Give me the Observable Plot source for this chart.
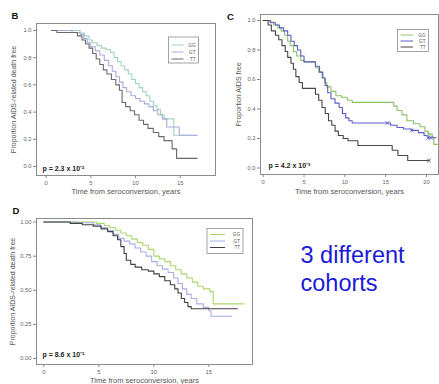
<!DOCTYPE html>
<html>
<head>
<meta charset="utf-8">
<script src="https://cdn.jsdelivr.net/npm/d3@7"></script>
<script src="https://cdn.jsdelivr.net/npm/@observablehq/plot@0.6"></script>
<style>
  body { margin: 0; background: #fff; }
  #wrap { position: relative; width: 439px; height: 384px; overflow: hidden; background: #fff; font-family: Arial, "Liberation Sans", sans-serif; }
  .panel { position: absolute; }
  #overlay { position: absolute; left: 0; top: 0; }
</style>
</head>
<body>
<div id="wrap">
  <div class="panel" id="pB" style="left:0px;top:0px"></div>
  <div class="panel" id="pC" style="left:220px;top:0px"></div>
  <div class="panel" id="pD" style="left:0px;top:190px"></div>
</div>
<script>
// ---------- data (time in years, proportion surviving) ----------
const genotypes = ["GG", "GT", "TT"];
const xTitle = "Time from seroconversion, years";

// Panel B
const B_GG = [[0.6,1],[3.8,0.98],[4.3,0.96],[4.8,0.93],[5.2,0.91],[5.7,0.89],[6.2,0.87],[6.7,0.86],[7.2,0.84],[7.6,0.80],[8.0,0.77],[8.4,0.74],[8.8,0.71],[9.2,0.68],[9.6,0.64],[10.0,0.61],[10.4,0.58],[10.8,0.55],[11.2,0.52],[11.6,0.48],[12.0,0.45],[12.4,0.42],[12.8,0.38],[13.2,0.35],[14.3,0.23],[16.9,0.23]];
const B_GT = [[0.6,1],[2.9,0.985],[3.8,0.97],[4.2,0.94],[4.6,0.91],[5.0,0.88],[5.5,0.85],[6.0,0.82],[6.5,0.78],[7.0,0.74],[7.4,0.70],[7.8,0.66],[8.2,0.62],[8.6,0.58],[9.0,0.55],[9.5,0.52],[10.0,0.50],[10.5,0.48],[11.0,0.46],[11.5,0.44],[12.0,0.41],[12.5,0.38],[13.0,0.35],[13.5,0.29],[14.9,0.23],[16.9,0.23]];
const B_TT = [[0.6,1],[1.2,0.985],[3.5,0.96],[4.0,0.93],[4.4,0.90],[4.8,0.87],[5.2,0.83],[5.6,0.79],[6.0,0.75],[6.4,0.71],[6.8,0.68],[7.3,0.64],[7.8,0.60],[8.2,0.56],[8.5,0.47],[8.9,0.44],[9.4,0.41],[9.9,0.38],[10.4,0.34],[10.9,0.31],[11.4,0.28],[12.0,0.25],[12.6,0.22],[13.2,0.19],[14.1,0.13],[14.6,0.06],[16.9,0.06]];

// Panel C
const C_GG = [[0,1],[0.8,0.99],[1.3,0.97],[1.8,0.95],[2.2,0.93],[2.6,0.90],[3.0,0.86],[3.3,0.83],[3.7,0.79],[4.1,0.76],[4.6,0.73],[5.0,0.72],[6.4,0.68],[6.8,0.65],[7.2,0.61],[7.5,0.58],[7.8,0.55],[8.3,0.52],[8.9,0.49],[9.6,0.48],[10.3,0.46],[10.9,0.445],[16.0,0.42],[16.4,0.39],[17.0,0.36],[17.6,0.32],[18.4,0.30],[19.2,0.28],[19.8,0.25],[20.2,0.23],[20.7,0.21],[20.9,0.16],[21.3,0.16]];
const C_GT = [[0,1],[0.9,0.985],[1.5,0.97],[2.0,0.95],[2.5,0.93],[3.0,0.90],[3.4,0.86],[3.8,0.83],[4.2,0.80],[4.6,0.76],[5.0,0.72],[6.4,0.69],[6.9,0.65],[7.3,0.61],[7.6,0.56],[7.9,0.51],[8.3,0.47],[8.8,0.44],[9.3,0.41],[9.7,0.37],[10.1,0.34],[10.5,0.32],[10.9,0.305],[15.6,0.29],[16.4,0.275],[17.2,0.265],[18.2,0.255],[19.0,0.24],[19.7,0.22],[20.2,0.205],[21.2,0.205]];
const C_TT = [[0,1],[0.6,0.97],[1.0,0.93],[1.5,0.90],[1.9,0.87],[2.3,0.83],[2.7,0.79],[3.0,0.75],[3.4,0.71],[3.7,0.67],[4.0,0.62],[4.4,0.58],[4.8,0.54],[6.4,0.50],[6.8,0.46],[7.2,0.41],[7.6,0.37],[8.0,0.32],[8.4,0.29],[8.8,0.25],[9.2,0.22],[9.8,0.20],[10.4,0.185],[11.6,0.153],[15.8,0.12],[16.5,0.085],[17.7,0.051],[20.3,0.051]];
const C_censor_GG = [[20.3,0.23]];
const C_censor_GT = [[15.2,0.305],[18.2,0.255],[20.2,0.205],[20.5,0.205]];
const C_censor_TT = [[20.3,0.051]];

// Panel D
const D_GG = [[0,1],[4.8,0.99],[5.5,0.975],[6.0,0.96],[6.5,0.94],[7.0,0.92],[7.5,0.90],[8.0,0.875],[8.5,0.85],[9.0,0.83],[9.5,0.80],[10.0,0.75],[10.5,0.73],[11.0,0.71],[11.5,0.68],[12.0,0.65],[12.5,0.62],[13.0,0.59],[13.5,0.56],[14.0,0.53],[14.5,0.51],[15.1,0.49],[15.4,0.40],[18.2,0.40]];
const D_GT = [[0,1],[3.0,0.995],[4.5,0.98],[5.2,0.96],[5.8,0.94],[6.3,0.91],[6.8,0.88],[7.3,0.86],[7.8,0.84],[8.3,0.81],[8.8,0.78],[9.3,0.75],[9.8,0.71],[10.3,0.68],[10.8,0.655],[11.3,0.63],[11.8,0.59],[12.2,0.55],[12.6,0.51],[13.0,0.47],[13.4,0.44],[13.9,0.40],[14.5,0.375],[15.0,0.35],[15.2,0.31],[17.1,0.31]];
const D_TT = [[0,1],[2.4,0.99],[3.5,0.98],[4.5,0.97],[5.2,0.95],[5.8,0.93],[6.3,0.90],[6.7,0.87],[7.0,0.82],[7.3,0.77],[7.5,0.72],[7.9,0.69],[8.3,0.67],[8.9,0.65],[9.5,0.64],[10.0,0.62],[10.5,0.60],[11.0,0.57],[11.5,0.54],[11.9,0.51],[12.2,0.48],[12.5,0.44],[12.8,0.41],[13.1,0.38],[13.4,0.365],[17.6,0.365]];

// tick labels
const B_xticks = [0, 5, 10, 15];
const B_yticks = [0, 0.2, 0.4, 0.6, 0.8, 1.0];
const C_xticks = [0, 5, 10, 15, 20];
const C_yticks = [0, 0.2, 0.4, 0.6, 0.8, 1.0];
const D_xticks = [0, 5, 10, 15];
const D_yticks = [0, 0.25, 0.5, 0.75, 1.0];

const pB = "p = 2.3 x 10⁻²";
const pC = "p = 4.2 x 10⁻³";
const pD = "p = 8.6 x 10⁻³";

// ---------- drawing ----------
function km(cfg) {
  const marks = [
    Plot.frame({stroke: "#8c8c8c", strokeWidth: 1}),
    Plot.axisX({ticks: cfg.xticks, tickSize: 3, tickPadding: 2, label: null, stroke: "#888", fill: "#666", fontSize: 5.8}),
    Plot.axisY({ticks: cfg.yticks, tickSize: 3, tickPadding: 2, label: null, tickFormat: d3.format(cfg.yfmt), stroke: "#888", fill: "#666", fontSize: 5.8}),
  ];
  cfg.series.forEach((pts, i) => {
    marks.push(Plot.line(pts, {x: d => d[0], y: d => d[1], curve: "step-after", stroke: cfg.colors[i], strokeWidth: 1.1}));
  });
  (cfg.censors || []).forEach((pts, i) => {
    marks.push(Plot.dot(pts, {x: d => d[0], y: d => d[1], symbol: "times", r: 1.8, stroke: cfg.colors[i], strokeWidth: 0.9}));
  });
  marks.push(
    Plot.text([xTitle], {frameAnchor: "bottom", textAnchor: "middle", dy: cfg.xTitleDy, fill: "#555", fontSize: 7.5}),
    Plot.text([cfg.yTitle], {frameAnchor: "left", textAnchor: "middle", lineAnchor: "middle", rotate: -90, dx: cfg.yTitleDx, fill: "#555", fontSize: 7}),
    Plot.text([cfg.p], {frameAnchor: "bottom-left", textAnchor: "start", dx: cfg.pDx, dy: cfg.pDy, fill: "#222", fontWeight: "bold", fontSize: 7})
  );
  return Plot.plot({
    width: cfg.width, height: cfg.height,
    marginLeft: cfg.m[0], marginTop: cfg.m[1], marginRight: cfg.m[2], marginBottom: cfg.m[3],
    x: {domain: cfg.xd},
    y: {domain: cfg.yd},
    style: {fontFamily: "Arial, 'Liberation Sans', sans-serif", background: "transparent", overflow: "visible"},
    marks
  });
}

const colB = ["#9fd3c0", "#a9a9dc", "#6a6a6a"];
const colC = ["#8cc26a", "#5c5cc8", "#474747"];
const colD = ["#abd66c", "#a6aeea", "#404040"];

document.getElementById("pB").append(km({
  width: 220, height: 200, m: [36, 23, 5, 25],
  xd: [-1.086, 18.96], yd: [-0.066, 1.051],
  xticks: B_xticks, yticks: B_yticks, yfmt: ".1f",
  series: [B_GG, B_GT, B_TT], colors: colB,
  yTitle: "Proportion AIDS-related death free", yTitleDx: -23, xTitleDy: 18,
  p: pB, pDx: 6, pDy: -5
}));

document.getElementById("pC").append(km({
  width: 219, height: 200, m: [40, 14, 1, 26],
  xd: [-0.331, 21.47], yd: [-0.044, 1.041],
  xticks: C_xticks, yticks: C_yticks, yfmt: ".1f",
  series: [C_GG, C_GT, C_TT], colors: colC,
  censors: [C_censor_GG, C_censor_GT, C_censor_TT],
  yTitle: "Proportion AIDS free", yTitleDx: -22, xTitleDy: 19,
  p: pC, pDx: 8, pDy: -7
}));

document.getElementById("pD").append(km({
  width: 260, height: 194, m: [36, 28, 8, 20],
  xd: [-0.664, 18.97], yd: [-0.044, 1.026],
  xticks: D_xticks, yticks: D_yticks, yfmt: ".2f",
  series: [D_GG, D_GT, D_TT], colors: colD,
  yTitle: "Proportion AIDS-related death free", yTitleDx: -24, xTitleDy: 18,
  p: pD, pDx: 6, pDy: -8
}));

// ---------- overlay: panel letters, legends, note ----------
const svg = d3.select("#wrap").append("svg").attr("id", "overlay")
  .attr("width", 439).attr("height", 384)
  .style("font-family", "Arial, 'Liberation Sans', sans-serif");

[["B", 11.5, 18.5], ["C", 227, 19.5], ["D", 12.5, 213.5]].forEach(([t, x, y]) => {
  svg.append("text").attr("x", x).attr("y", y).attr("font-size", 9.5).attr("font-weight", "bold").attr("fill", "#111").text(t);
});

function legend(x, y, w, h, rows, colors) {
  const g = svg.append("g");
  g.append("rect").attr("x", x).attr("y", y).attr("width", w).attr("height", h)
    .attr("fill", "#fff").attr("stroke", "#8c8c8c").attr("stroke-width", 0.8);
  rows.forEach((ry, i) => {
    g.append("line").attr("x1", x + 3).attr("x2", x + w * 0.5).attr("y1", ry).attr("y2", ry)
      .attr("stroke", colors[i]).attr("stroke-width", 1);
    g.append("text").attr("x", x + w - 3).attr("y", ry + 1.6).attr("text-anchor", "end")
      .attr("font-size", 4.6).attr("fill", "#555").text(genotypes[i]);
  });
}
legend(168.5, 37, 30, 26, [45, 52, 59], colB);
legend(397.5, 29.5, 31, 22, [35, 41, 47], colC);
legend(207, 228.5, 36, 25, [234.5, 241, 247.5], colD);

const note = svg.append("text").attr("font-size", 23.5).attr("fill", "#1a1ad6");
note.append("tspan").attr("x", 300.5).attr("y", 262.5).text("3 different");
note.append("tspan").attr("x", 300.5).attr("y", 291).text("cohorts");
</script>
</body>
</html>
